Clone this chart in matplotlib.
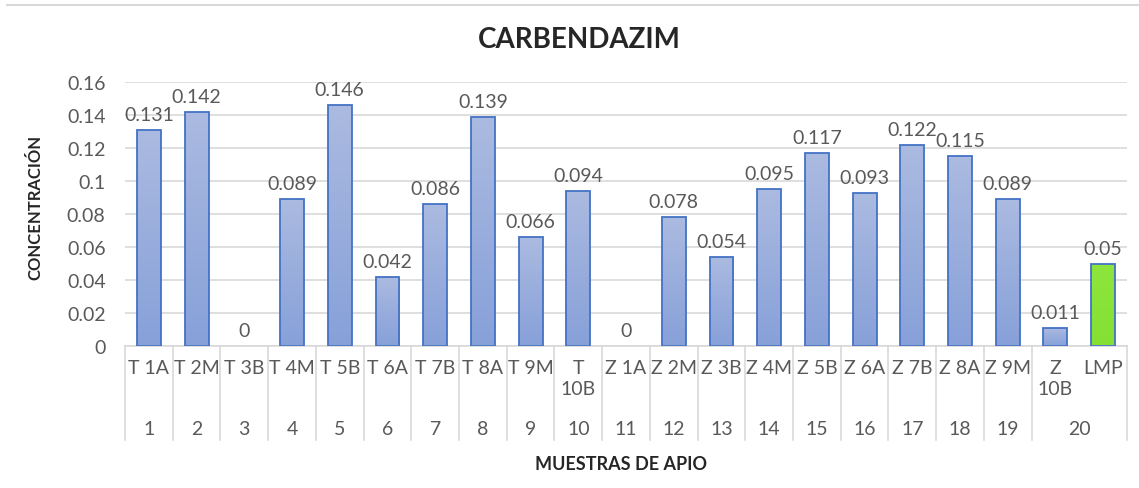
import numpy as np
import matplotlib.pyplot as plt
from matplotlib.lines import Line2D

plt.rcParams['font.family'] = ['Lato', 'DejaVu Sans']

# datos
muestras = ['T 1A', 'T 2M', 'T 3B', 'T 4M', 'T 5B', 'T 6A', 'T 7B', 'T 8A', 'T 9M', 'T\n10B',
            'Z 1A', 'Z 2M', 'Z 3B', 'Z 4M', 'Z 5B', 'Z 6A', 'Z 7B', 'Z 8A', 'Z 9M', 'Z\n10B', 'LMP']
concentracion = [0.131, 0.142, 0, 0.089, 0.146, 0.042, 0.086, 0.139, 0.066, 0.094,
                 0, 0.078, 0.054, 0.095, 0.117, 0.093, 0.122, 0.115, 0.089, 0.011, 0.05]
grupos = [str(i) for i in range(1, 21)]
grupo_tam = [1] * 19 + [2]   # el grupo 20 tiene Z 10B y LMP

gris = '#595959'
fig = plt.figure(figsize=(11.39, 4.89), dpi=100)
ax = fig.add_axes([125 / 1139, 1 - 347 / 489, 1002 / 1139, 264 / 489])

x = np.arange(len(muestras))
anchos = [1.3 if v > 0 else 0 for v in concentracion]
bars = ax.bar(x, concentracion, width=0.5, color='none', edgecolor='#4472c4',
              linewidth=anchos, zorder=3)

# relleno con degradado (claro arriba, oscuro abajo)
azul = np.array([[0.67, 0.73, 0.88], [0.53, 0.63, 0.85]])
verde = np.array([[0.55, 0.90, 0.24], [0.52, 0.88, 0.20]])
for i, b in enumerate(bars):
    h = b.get_height()
    if h <= 0:
        continue
    c = verde if muestras[i] == 'LMP' else azul
    grad = np.linspace(0, 1, 64)[:, None]
    img = (c[0] * (1 - grad) + c[1] * grad).reshape(64, 1, 3)
    im = ax.imshow(img, extent=[b.get_x(), b.get_x() + b.get_width(), 0, h],
                   aspect='auto', zorder=2, interpolation='bilinear')
    im.set_clip_path(b)

# etiquetas de datos
for i, v in enumerate(concentracion):
    ax.annotate(f'{v:g}', (x[i], v), xytext=(0, 5), textcoords='offset points',
                ha='center', va='bottom', fontsize=14, color=gris)

ax.set_xlim(-0.5, len(muestras) - 0.5)
ax.set_ylim(0, 0.16)
ax.set_yticks(np.arange(0, 0.161, 0.02))
ax.set_yticklabels(['0', '0.02', '0.04', '0.06', '0.08', '0.1', '0.12', '0.14', '0.16'])
ax.tick_params(axis='y', length=0, labelsize=14, labelcolor=gris, pad=14)
ax.yaxis.grid(True, color='#d9d9d9', linewidth=1.2, zorder=0)
ax.set_axisbelow(True)
for s in ['top', 'right', 'left']:
    ax.spines[s].set_visible(False)
ax.spines['bottom'].set_color('#d9d9d9')
ax.spines['bottom'].set_linewidth(1.2)
ax.set_xticks([])

# eje de categorías en dos niveles
trans = ax.get_xaxis_transform()
for i, m in enumerate(muestras):
    ax.text(x[i], -0.05, m, transform=trans, ha='center', va='top',
            fontsize=14, color=gris, linespacing=1.3)
inicio = -0.5
for g, n in zip(grupos, grupo_tam):
    ax.text(inicio + n / 2, -0.28, g, transform=trans, ha='center', va='top',
            fontsize=14, color=gris)
    inicio += n
bordes = np.cumsum([0] + grupo_tam) - 0.5
for b in bordes:
    ax.add_line(Line2D([b, b], [0, -0.355], transform=trans, color='#d9d9d9',
                       linewidth=1.2, clip_on=False))

fig.text(579 / 1139, 1 - 40 / 489, 'CARBENDAZIM', ha='center', va='center',
         fontsize=20, fontweight='bold', color='#262626')
fig.text(621 / 1139, 1 - 465 / 489, 'MUESTRAS DE APIO', ha='center', va='center',
         fontsize=13, fontweight='bold', color='#262626')
fig.text(35 / 1139, 1 - 207 / 489, 'CONCENTRACIÓN', ha='center', va='center', rotation=90,
         fontsize=12, fontweight='bold', color='#262626')

# borde superior del gráfico
fig.add_artist(Line2D([7 / 1139, 1], [1 - 6 / 489, 1 - 6 / 489], transform=fig.transFigure,
                      color='#d9d9d9', linewidth=1.5))

fig.savefig('out.png', dpi=100)
